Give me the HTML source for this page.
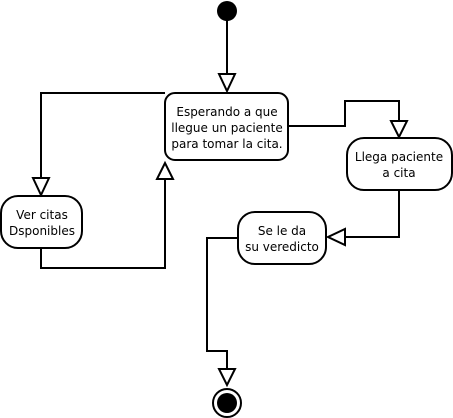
<!DOCTYPE html>
<html><head><style>
html,body{margin:0;padding:0;background:#fff;width:453px;height:418px;overflow:hidden}
svg{display:block}
text{font-family:"DejaVu Sans",sans-serif;font-size:12px;fill:#000}
</style></head><body>
<svg width="453" height="418" viewBox="0 0 453 418" xmlns="http://www.w3.org/2000/svg">
<g fill="none" stroke="#000" stroke-width="2">
<rect x="165" y="93" width="123" height="67" rx="10"/>
<rect x="347" y="138" width="105" height="52" rx="17"/>
<rect x="1" y="196" width="81" height="52" rx="17"/>
<rect x="238" y="212" width="88" height="52" rx="17"/>
<path d="M227 20 V74"/>
<path d="M165 93 H41 V178"/>
<path d="M41 248 V268 H165 V179"/>
<path d="M289 126 H345 V101 H399 V121"/>
<path d="M399 190 V237 H346"/>
<path d="M238 238 H207 V351 H227 V369"/>
</g>
<g fill="#fff" stroke="#000" stroke-width="2">
<polygon points="219,74 235,74 227,91"/>
<polygon points="33,178 49,178 41,195"/>
<polygon points="157,179 173,179 165,163"/>
<polygon points="391,121 407,121 399,137"/>
<polygon points="345,229 345,245 328,237"/>
<polygon points="219,369 235,369 227,385"/>
</g>
<circle cx="227" cy="11" r="10" fill="#000"/>
<circle cx="227" cy="403" r="14" fill="#fff" stroke="#000" stroke-width="2"/>
<circle cx="227" cy="403" r="10" fill="#000"/>
<text x="227" y="116" text-anchor="middle">Esperando a que</text>
<text x="227" y="132" text-anchor="middle">llegue un paciente</text>
<text x="227" y="148" text-anchor="middle">para tomar la cita.</text>
<text x="399" y="161" text-anchor="middle">Llega paciente</text>
<text x="399" y="177" text-anchor="middle">a cita</text>
<text x="42" y="219" text-anchor="middle">Ver citas</text>
<text x="42" y="235" text-anchor="middle">Dsponibles</text>
<text x="282" y="235" text-anchor="middle">Se le da</text>
<text x="282" y="251" text-anchor="middle">su veredicto</text>
</svg>
</body></html>
